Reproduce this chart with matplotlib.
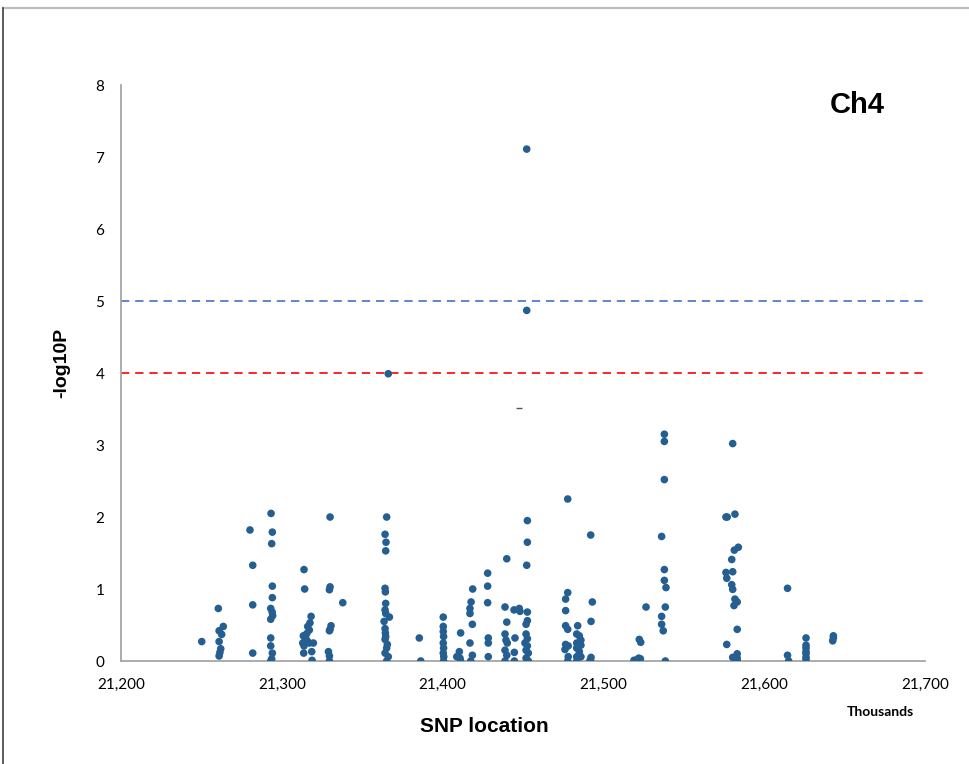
import matplotlib.pyplot as plt
from matplotlib.lines import Line2D

pos = [21250.2,
       21260.5, 21263.6, 21261.0, 21262.6, 21261.0, 21262.0, 21261.5, 21261.0,
       21280.2, 21281.9, 21281.9, 21281.9,
       21293.3, 21294.1, 21293.7, 21294.1, 21294.1, 21293.1, 21294.0, 21294.3, 21293.1,
       21293.1, 21293.1, 21294.1, 21293.7, 21293.1,
       21313.8, 21314.2, 21318.2, 21317.5, 21316.1, 21317.1, 21315.5, 21313.4, 21314.4,
       21315.5, 21313.0, 21317.1, 21319.6, 21313.8, 21313.6, 21318.6, 21318.8,
       21330.0, 21330.0, 21329.6, 21330.6, 21330.0, 21329.6, 21329.0, 21329.6, 21329.6,
       21337.9,
       21365.2, 21364.2, 21364.8, 21364.6, 21364.2, 21364.4, 21364.6, 21364.2, 21364.6,
       21366.9, 21363.6, 21364.2, 21364.4, 21364.6, 21364.2, 21365.6, 21365.2, 21364.2,
       21366.2, 21365.2, 21366.2,
       21385.5, 21386.4,
       21400.4, 21400.4, 21400.4, 21400.6, 21400.4, 21400.6, 21400.4, 21400.7, 21400.6,
       21411.2, 21410.4, 21408.8, 21410.8, 21411.2,
       21418.7, 21417.7, 21417.0, 21417.0, 21418.5, 21417.0, 21418.5, 21417.5,
       21428.0, 21428.0, 21428.0, 21428.4, 21428.4, 21428.4,
       21439.9, 21438.8, 21439.9, 21438.8, 21439.4, 21440.2, 21438.8, 21439.9, 21438.8,
       21444.4, 21447.7, 21448.1, 21445.0, 21444.6, 21444.6,
       21452.3, 21452.3, 21452.7, 21452.7, 21452.3, 21452.7, 21452.7, 21451.9, 21451.9,
       21452.7, 21451.2, 21452.7, 21451.9, 21453.3, 21451.9, 21453.3,
       21477.8, 21477.8, 21476.5, 21476.5, 21476.5, 21477.8, 21476.5, 21478.1, 21476.1,
       21478.1, 21477.8,
       21484.0, 21483.4, 21485.0, 21486.0, 21483.4, 21486.0, 21483.4, 21485.0, 21483.4,
       21486.0, 21483.4,
       21492.1, 21493.1, 21492.3, 21492.3, 21491.7, 21492.1,
       21519.5, 21521.0, 21522.0, 21523.0, 21519.0, 21522.3, 21523.2,
       21526.5,
       21537.9, 21537.9, 21537.9, 21536.2, 21537.9, 21537.9, 21538.9, 21538.5, 21536.2,
       21536.2, 21537.2, 21538.5,
       21580.4, 21581.8, 21576.2, 21577.0, 21583.9, 21581.4, 21579.8, 21576.2, 21580.4,
       21576.7, 21579.8, 21580.4, 21581.8, 21583.2, 21581.2, 21583.2, 21576.7, 21580.4,
       21583.2, 21583.2, 21583.2,
       21614.5, 21614.5, 21615.2,
       21626.0, 21626.0, 21626.0, 21626.0, 21626.0, 21626.0, 21626.0,
       21643.0, 21643.0, 21642.6]

logp = [0.27,
        0.73, 0.48, 0.42, 0.37, 0.27, 0.17, 0.12, 0.07,
        1.82, 1.33, 0.78, 0.11,
        2.05, 1.79, 1.63, 1.04, 0.88, 0.73, 0.68, 0.63, 0.58,
        0.32, 0.21, 0.11, 0.03, 0.0,
        1.27, 1.00, 0.62, 0.53, 0.48, 0.43, 0.38, 0.35, 0.32,
        0.29, 0.25, 0.25, 0.25, 0.21, 0.11, 0.13, 0.01,
        2.00, 1.03, 0.99, 0.49, 0.44, 0.42, 0.13, 0.07, 0.0,
        0.81,
        2.00, 1.76, 1.65, 1.53, 1.01, 0.96, 0.80, 0.71, 0.66,
        0.61, 0.55, 0.45, 0.39, 0.34, 0.30, 0.23, 0.18, 0.11,
        0.06, 0.0, 3.99,
        0.32, 0.0,
        0.61, 0.48, 0.41, 0.34, 0.25, 0.18, 0.11, 0.06, 0.0,
        0.39, 0.13, 0.06, 0.04, 0.0,
        1.00, 0.82, 0.73, 0.66, 0.51, 0.25, 0.08, 0.0,
        1.22, 1.04, 0.81, 0.32, 0.25, 0.06,
        1.42, 0.75, 0.54, 0.375, 0.29, 0.25, 0.15, 0.08, 0.0,
        0.71, 0.73, 0.69, 0.32, 0.12, 0.0,
        7.11, 4.87, 1.95, 1.65, 1.33, 0.68, 0.56, 0.51, 0.375,
        0.31, 0.25, 0.21, 0.15, 0.11, 0.04, 0.0,
        2.25, 0.95, 0.86, 0.70, 0.49, 0.44, 0.23, 0.21, 0.16,
        0.06, 0.0,
        0.49, 0.375, 0.35, 0.29, 0.25, 0.22, 0.18, 0.13, 0.06,
        0.06, 0.0,
        1.75, 0.82, 0.55, 0.05, 0.01, 0.0,
        0.0, 0.02, 0.04, 0.03, 0.01, 0.30, 0.26,
        0.75,
        3.15, 3.05, 2.52, 1.73, 1.27, 1.12, 1.02, 0.75, 0.62,
        0.51, 0.42, 0.0,
        3.02, 2.04, 2.00, 2.00, 1.58, 1.54, 1.41, 1.23, 1.24,
        1.15, 1.06, 0.995, 0.86, 0.82, 0.77, 0.44, 0.23, 0.05,
        0.10, 0.04, 0.0,
        1.01, 0.08, 0.0,
        0.32, 0.22, 0.18, 0.13, 0.10, 0.05, 0.02,
        0.35, 0.32, 0.28]

thresholds = [5, 4]
threshold_colors = ["#4472C4", "#FF0000"]

fig = plt.figure(figsize=(9.69, 7.64), dpi=100)
ax = fig.add_axes([0.1249, 0.1348, 0.8297, 0.7539])

ax.scatter(pos, logp, s=30, color="#255E91", edgecolors="none", zorder=3)
# small stray mark seen in the original
ax.plot([21447.7], [3.51], marker="_", color="#555555", markersize=4, zorder=3)

for yv, c in zip(thresholds, threshold_colors):
    ax.axhline(yv, color=c, linestyle=(0, (5, 3.5)), linewidth=1.2, zorder=2)

ax.set_xlim(21200, 21700)
ax.set_ylim(0, 8)
ax.set_xticks(range(21200, 21701, 100))
ax.set_xticklabels([f"{v:,}" for v in range(21200, 21701, 100)])
ax.set_yticks(range(0, 9))

for s in ["top", "right"]:
    ax.spines[s].set_visible(False)
for s in ["left", "bottom"]:
    ax.spines[s].set_color("#A6A6A6")
    ax.spines[s].set_linewidth(1.3)

ax.tick_params(length=0, labelsize=11, colors="#000000", pad=12)
for lab in ax.get_xticklabels() + ax.get_yticklabels():
    lab.set_fontfamily("Lato")

# axis titles placed where the original has them (not centred on the axes)
fig.text(0.4995, 0.0497, "SNP location", fontsize=15, fontweight="bold",
         fontfamily="Liberation Sans", ha="center", va="center")
fig.text(0.064, 0.525, "-log10P", fontsize=14, fontweight="bold",
         fontfamily="Liberation Sans", ha="center", va="center", rotation=90)

fig.text(0.885, 0.862, "Ch4", fontsize=21, fontweight="bold",
         fontfamily="Liberation Sans", ha="center", va="center")
fig.text(0.909, 0.068, "Thousands", fontsize=10, fontweight="bold",
         fontfamily="Lato", ha="center", va="center")

# outer frame lines (top and left) as in the screenshot
fig.add_artist(Line2D([0.003, 1.0], [0.989, 0.989], transform=fig.transFigure,
                      color="#BDBDBD", linewidth=1.6))
fig.add_artist(Line2D([0.0035, 0.0035], [0.0, 0.989], transform=fig.transFigure,
                      color="#404040", linewidth=1.2))

fig.savefig("out.png", dpi=100)
